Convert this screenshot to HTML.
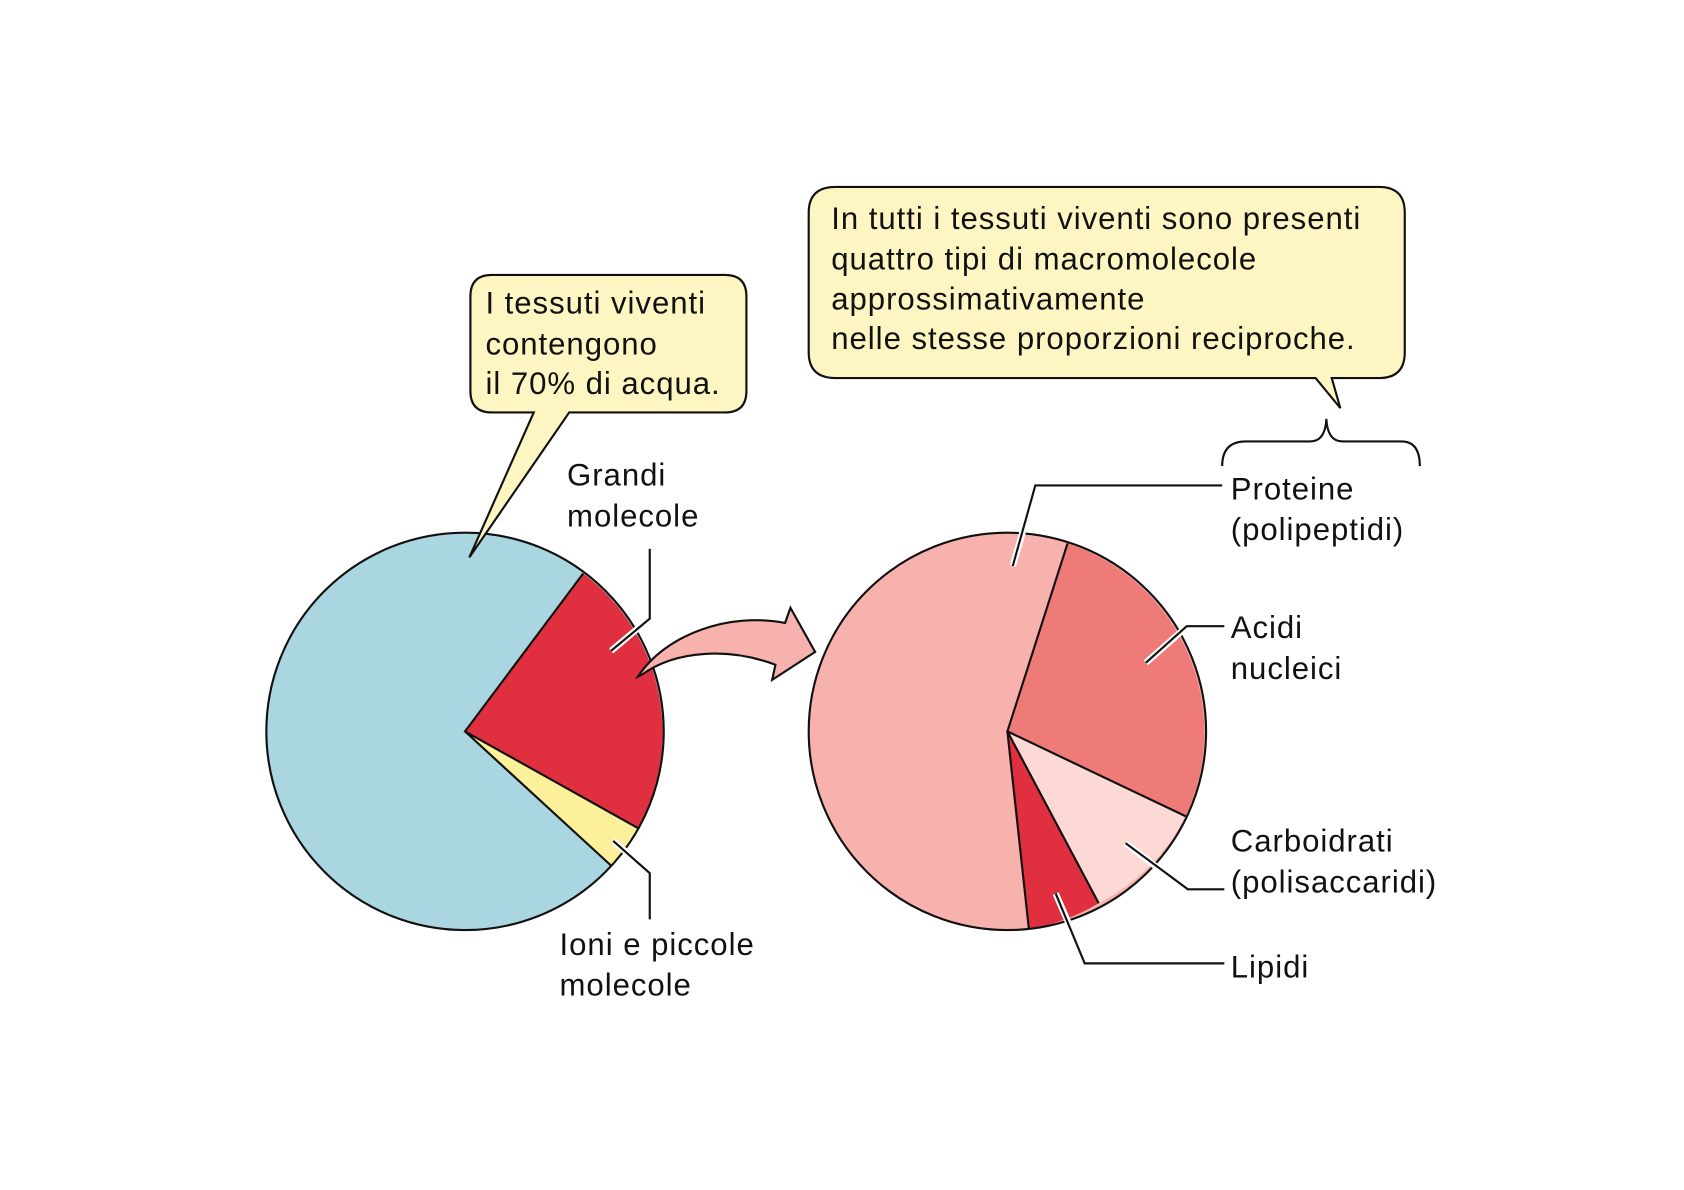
<!DOCTYPE html>
<html><head><meta charset="utf-8"><style>
html,body{margin:0;padding:0;background:#fff;}
svg{display:block;}
text{font-family:"Liberation Sans",sans-serif;font-size:29px;fill:#111;letter-spacing:0.9px;}
</style></head><body>
<svg width="1684" height="1190" viewBox="0 0 1568 1108" xmlns="http://www.w3.org/2000/svg">
<rect width="1568" height="1108" fill="#fff"/>
<!-- left pie -->
<circle cx="433" cy="681" r="185" fill="#aad6e2"/>
<path d="M433,681 L543,534 A185,185 0 0 1 594,771 Z" fill="#e0303f"/>
<path d="M433,681 L594,771 A185,185 0 0 1 569,806 Z" fill="#fcf19a"/>
<g fill="none" stroke="#111" stroke-width="2"><circle cx="433" cy="681" r="185"/><path d="M543,534 L433,681 L594,771 M433,681 L569,806"/></g>
<!-- right pie -->
<circle cx="938" cy="681" r="185" fill="#f8b2ad"/>
<path d="M938,681 L994,506 A185,185 0 0 1 1104,760 Z" fill="#ee7b78"/>
<path d="M938,681 L1104,760 A185,185 0 0 1 1023,841 Z" fill="#fdd9d5"/>
<path d="M938,681 L1023,841 A185,185 0 0 1 958,865 Z" fill="#e0303f"/>
<g fill="none" stroke="#111" stroke-width="2"><circle cx="938" cy="681" r="185"/><path d="M994,506 L938,681 L1104,760 M938,681 L1023,841 M938,681 L958,865"/></g>
<!-- arrow -->
<path d="M594,630 C620,590 680,570 731,580 L736,566 L759,607 L719,633 L722,619 C680,603 630,605 598,628 Z" fill="#f8b2ad" stroke="#111" stroke-width="2" stroke-linejoin="miter"/>
<!-- callout 1 -->
<path d="M458,256 H675 Q695,256 695,276 V364 Q695,384 675,384 H530 L437,519 L497,384 H458 Q438,384 438,364 V276 Q438,256 458,256 Z" fill="#fdf6c2" stroke="#111" stroke-width="2"/>
<text x="452" y="292">I tessuti viventi</text>
<text x="452" y="330">contengono</text>
<text x="452" y="367">il 70% di acqua.</text>
<!-- callout 2 -->
<path d="M778,174 H1284 Q1308,174 1308,198 V328 Q1308,352 1284,352 H1240 L1248,380 L1225,352 H778 Q753,352 753,328 V198 Q753,174 778,174 Z" fill="#fdf6c2" stroke="#111" stroke-width="2"/>
<text x="774" y="213">In tutti i tessuti viventi sono presenti</text>
<text x="774" y="251">quattro tipi di macromolecole</text>
<text x="774" y="288">approssimativamente</text>
<text x="774" y="325">nelle stesse proporzioni reciproche.</text>
<!-- brace -->
<path d="M1138,434 Q1138,411 1160,411 H1220 Q1234,411 1235,390 Q1236,411 1250,411 H1305 Q1322,411 1322,434" fill="none" stroke="#111" stroke-width="2"/>
<!-- leaders with white halo -->
<g fill="none" stroke-linejoin="miter">
<g stroke="#fff" stroke-width="6">
<path d="M943,527 L956,482"/><path d="M1067,617 L1100,588"/><path d="M1048,785 L1100,825"/><path d="M983,832 L996,862"/>
<path d="M569,606 L600,580"/><path d="M571,783 L600,808"/>
</g>
<g stroke="#111" stroke-width="2">
<path d="M943,527 L964,452 H1138"/>
<path d="M1067,617 L1105,583 H1140"/>
<path d="M1048,785 L1106,828 H1140"/>
<path d="M983,832 L1010,897 H1140"/>
<path d="M569,606 L605,576 V511"/>
<path d="M571,783 L605,813 V856"/>
</g>
</g>
<text x="528" y="452">Grandi</text>
<text x="528" y="490">molecole</text>
<text x="521" y="889">Ioni e piccole</text>
<text x="521" y="927">molecole</text>
<text x="1146" y="465">Proteine</text>
<text x="1146" y="503">(polipeptidi)</text>
<text x="1146" y="594">Acidi</text>
<text x="1146" y="632">nucleici</text>
<text x="1146" y="793">Carboidrati</text>
<text x="1146" y="831">(polisaccaridi)</text>
<text x="1146" y="910">Lipidi</text>
</svg>
</body></html>
